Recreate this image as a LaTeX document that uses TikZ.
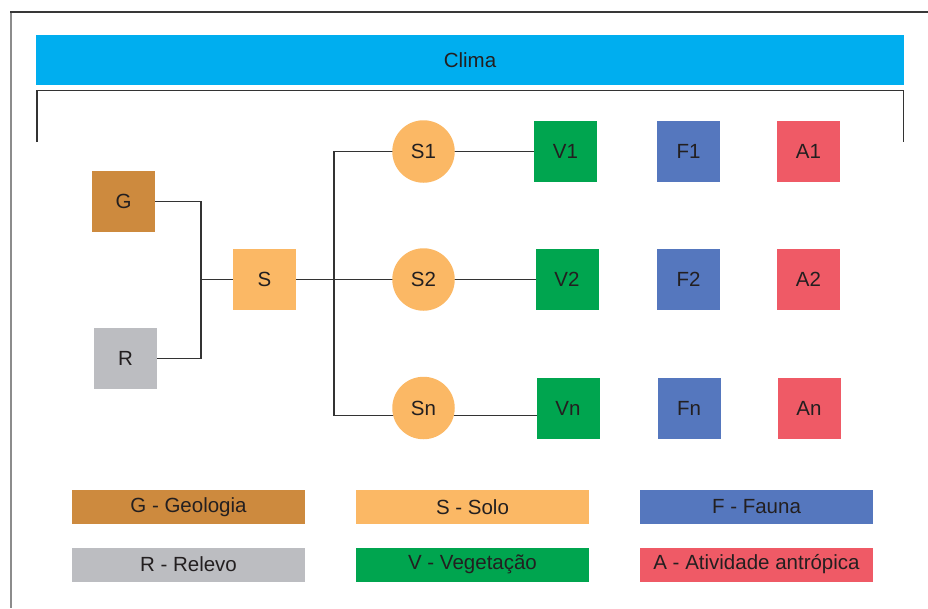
\documentclass[tikz,border=0pt]{standalone}
\usepackage{fontspec}
\setmainfont{Liberation Sans}
\usetikzlibrary{backgrounds}
\definecolor{clima}{HTML}{00AEEF}
\definecolor{geo}{HTML}{CD8A3E}
\definecolor{rel}{HTML}{BCBDC1}
\definecolor{solo}{HTML}{FBB865}
\definecolor{veg}{HTML}{00A54F}
\definecolor{fau}{HTML}{5577BE}
\definecolor{antr}{HTML}{EF5A66}
\definecolor{ink}{HTML}{231F20}
\definecolor{wire}{HTML}{333333}
\tikzset{
  txt/.style={text=ink, font=\fontsize{20.5}{24}\selectfont, inner sep=0pt},
  box/.style={txt, minimum width=63pt, minimum height=61pt},
  soil/.style={txt, circle, fill=solo, minimum size=62.5pt},
  legend/.style={txt, minimum width=233pt, minimum height=34pt},
  wireline/.style={draw=wire, line width=1.4pt},
}
\begin{document}
\begin{tikzpicture}[x=1pt, y=-1pt]
  \useasboundingbox (0,0) rectangle (928,608);
  % outer frame (only the left and top edges fall inside the page)
  \draw[color=black!45, line width=2pt] (11,12) -- (11,608);
  \draw[color=black!78, line width=1.5pt] (10,12) -- (928,12);

  % climate band and the bracket beneath it
  \node[txt, fill=clima, minimum width=868pt, minimum height=49.5pt] (clima) at (470,59.8) {Clima};
  \draw[wireline] (37,142) -- (37,90.5) -- (903.5,90.5) -- (903.5,142);

  % factor nodes
  \node[box, fill=geo] (G) at (123.5,201.5) {G};
  \node[box, fill=rel] (R) at (125.5,358.5) {R};
  \node[box, fill=solo] (S) at (264.5,279.5) {S};

  \node[soil] (S1) at (423.5,151.5) {S1};
  \node[soil] (S2) at (423.5,279.5) {S2};
  \node[soil] (Sn) at (423.5,408) {Sn};

  \node[box, fill=veg] (V1) at (565.5,151.5) {V1};
  \node[box, fill=veg] (V2) at (567,279.5) {V2};
  \node[box, fill=veg] (Vn) at (568,408.5) {Vn};

  \node[box, fill=fau] (F1) at (688.5,151.5) {F1};
  \node[box, fill=fau] (F2) at (688.5,279.5) {F2};
  \node[box, fill=fau] (Fn) at (689,408.5) {Fn};

  \node[box, fill=antr] (A1) at (808.5,151.5) {A1};
  \node[box, fill=antr] (A2) at (808.5,279.5) {A2};
  \node[box, fill=antr] (An) at (809,408.5) {An};

  % junction points of the connectors
  \coordinate (jgr) at (201,279.5);
  \coordinate (js)  at (334,279.5);
  \coordinate (j1)  at (334,151.5);
  \coordinate (jn)  at (334,415.5);

  \begin{scope}[on background layer]
    \draw[wireline] (G.center) -| (jgr) |- (R.center);
    \draw[wireline] (jgr) -- (S.center);
    \draw[wireline] (S.center) -- (S2.center);
    \draw[wireline] (S1.center) -- (j1) -- (jn) -- ([yshift=-7.5pt]Sn.center);
    \draw[wireline] (S1.center) -- (V1.center);
    \draw[wireline] (S2.center) -- (V2.center);
    \draw[wireline] ([yshift=-7.5pt]Sn.center) -- ([yshift=-7pt]Vn.center);
  \end{scope}

  % key
  \node[legend, fill=geo]  (kG) at (188.5,507) {G - Geologia};
  \node[legend, fill=solo] (kS) at (472.5,507) {S - Solo};
  \node[legend, fill=fau]  (kF) at (756.5,507) {F - Fauna};
  \node[legend, fill=rel]  (kR) at (188.5,564.5) {R - Relevo};
  \node[legend, fill=veg]  (kV) at (472.5,564.5) {V - Vegetação};
  \node[legend, fill=antr] (kA) at (756.5,564.5) {A - Atividade antrópica};
\end{tikzpicture}
\end{document}
